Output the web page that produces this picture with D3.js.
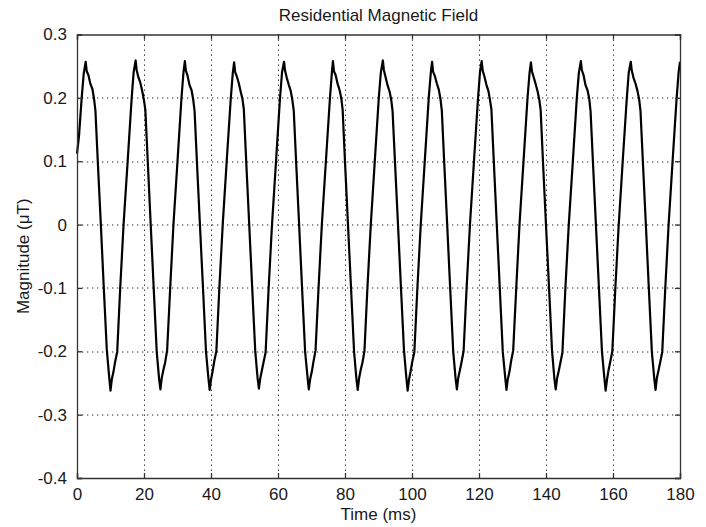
<!DOCTYPE html>
<html>
<head>
<meta charset="utf-8">
<script src="https://cdn.jsdelivr.net/npm/d3@7"></script>
<style>
  html, body { margin: 0; padding: 0; background: #fff; }
  svg { display: block; }
  text { font-family: "Liberation Sans", Arial, sans-serif; fill: #1a1a1a; }
</style>
</head>
<body>
<svg id="chart" width="706" height="527"></svg>
<script>
// ---------- data ----------
const title = "Residential Magnetic Field";
const xLabel = "Time (ms)";
const yLabel = "Magnitude (\u03bcT)";
const xTicks = [0, 20, 40, 60, 80, 100, 120, 140, 160, 180];
const yTicks = [-0.4, -0.3, -0.2, -0.1, 0, 0.1, 0.2, 0.3];
const yTickLabels = ["-0.4", "-0.3", "-0.2", "-0.1", "0", "0.1", "0.2", "0.3"];

const times = [
  0.0, 0.6, 1.4, 2.0,
  2.6, 2.9, 3.4, 4.0, 4.6, 5.1, 5.5, 6.2, 7.1, 8.0, 8.9, 9.6, 10.0, 10.4, 10.9, 11.4, 12.0, 12.9, 13.9, 15.1, 16.3, 16.9,
  17.5, 17.8, 18.3, 18.9, 19.5, 20.0, 20.4, 21.1, 22.0, 22.9, 23.8, 24.5, 24.9, 25.3, 25.8, 26.3, 26.9, 27.8, 28.8, 30.0, 31.2, 31.8,
  32.2, 32.5, 33.0, 33.6, 34.2, 34.7, 35.1, 35.8, 36.7, 37.6, 38.5, 39.2, 39.6, 40.0, 40.5, 41.0, 41.6, 42.5, 43.5, 44.7, 45.9, 46.5,
  46.9, 47.2, 47.7, 48.3, 48.9, 49.4, 49.8, 50.5, 51.4, 52.3, 53.2, 53.9, 54.3, 54.7, 55.2, 55.7, 56.3, 57.2, 58.2, 59.4, 60.6, 61.2,
  61.8, 62.1, 62.6, 63.2, 63.8, 64.3, 64.7, 65.4, 66.3, 67.2, 68.1, 68.8, 69.2, 69.6, 70.1, 70.6, 71.2, 72.1, 73.1, 74.3, 75.5, 76.1,
  76.4, 76.7, 77.2, 77.8, 78.4, 78.9, 79.3, 80.0, 80.9, 81.8, 82.7, 83.4, 83.8, 84.2, 84.7, 85.2, 85.8, 86.7, 87.7, 88.9, 90.1, 90.7,
  91.3, 91.6, 92.1, 92.7, 93.3, 93.8, 94.2, 94.9, 95.8, 96.7, 97.6, 98.3, 98.7, 99.1, 99.6, 100.1, 100.7, 101.6, 102.6, 103.8, 105.0, 105.6,
  106.0, 106.3, 106.8, 107.4, 108.0, 108.5, 108.9, 109.6, 110.5, 111.4, 112.3, 113.0, 113.4, 113.8, 114.3, 114.8, 115.4, 116.3, 117.3, 118.5, 119.7, 120.3,
  120.8, 121.1, 121.6, 122.2, 122.8, 123.3, 123.7, 124.4, 125.3, 126.2, 127.1, 127.8, 128.2, 128.6, 129.1, 129.6, 130.2, 131.1, 132.1, 133.3, 134.5, 135.1,
  135.5, 135.8, 136.3, 136.9, 137.5, 138.0, 138.4, 139.1, 140.0, 140.9, 141.8, 142.5, 142.9, 143.3, 143.8, 144.3, 144.9, 145.8, 146.8, 148.0, 149.2, 149.8,
  150.4, 150.7, 151.2, 151.8, 152.4, 152.9, 153.3, 154.0, 154.9, 155.8, 156.7, 157.4, 157.8, 158.2, 158.7, 159.2, 159.8, 160.7, 161.7, 162.9, 164.1, 164.7,
  165.3, 165.6, 166.1, 166.7, 167.3, 167.8, 168.2, 168.9, 169.8, 170.7, 171.6, 172.3, 172.7, 173.1, 173.6, 174.1, 174.7, 175.6, 176.6, 177.8, 179.0, 179.6,
  180.0
];

const values = [
  0.112, 0.140, 0.200, 0.238,
  0.257, 0.242, 0.236, 0.222, 0.214, 0.198, 0.180, 0.100, 0.002, -0.100, -0.198, -0.240, -0.262, -0.244, -0.232, -0.216, -0.201, -0.100, 0.000, 0.098, 0.198, 0.240,
  0.259, 0.244, 0.233, 0.224, 0.210, 0.196, 0.181, 0.102, 0.000, -0.101, -0.201, -0.243, -0.260, -0.242, -0.229, -0.218, -0.199, -0.102, 0.001, 0.100, 0.201, 0.241,
  0.258, 0.243, 0.235, 0.220, 0.212, 0.197, 0.179, 0.099, -0.001, -0.099, -0.200, -0.241, -0.261, -0.245, -0.231, -0.215, -0.200, -0.099, 0.000, 0.101, 0.199, 0.239,
  0.256, 0.241, 0.234, 0.223, 0.209, 0.198, 0.182, 0.101, 0.001, -0.100, -0.199, -0.242, -0.259, -0.243, -0.230, -0.217, -0.202, -0.101, -0.001, 0.099, 0.200, 0.240,
  0.257, 0.243, 0.232, 0.221, 0.211, 0.196, 0.180, 0.100, 0.000, -0.102, -0.201, -0.240, -0.260, -0.244, -0.232, -0.216, -0.199, -0.100, 0.001, 0.100, 0.199, 0.241,
  0.258, 0.242, 0.236, 0.222, 0.212, 0.199, 0.181, 0.099, -0.001, -0.100, -0.200, -0.243, -0.261, -0.243, -0.229, -0.218, -0.200, -0.099, 0.000, 0.101, 0.201, 0.240,
  0.259, 0.244, 0.233, 0.220, 0.210, 0.197, 0.179, 0.101, 0.002, -0.099, -0.198, -0.241, -0.262, -0.245, -0.231, -0.216, -0.201, -0.101, -0.001, 0.099, 0.200, 0.239,
  0.257, 0.241, 0.235, 0.223, 0.213, 0.198, 0.180, 0.100, 0.000, -0.101, -0.200, -0.242, -0.260, -0.242, -0.230, -0.217, -0.200, -0.100, 0.000, 0.100, 0.199, 0.241,
  0.258, 0.243, 0.234, 0.221, 0.211, 0.196, 0.182, 0.102, 0.001, -0.100, -0.201, -0.240, -0.261, -0.244, -0.232, -0.215, -0.199, -0.102, 0.001, 0.101, 0.201, 0.240,
  0.256, 0.242, 0.233, 0.222, 0.210, 0.197, 0.181, 0.099, -0.001, -0.099, -0.199, -0.243, -0.260, -0.243, -0.231, -0.218, -0.202, -0.099, 0.000, 0.099, 0.200, 0.239,
  0.258, 0.244, 0.236, 0.220, 0.212, 0.199, 0.179, 0.100, 0.000, -0.100, -0.200, -0.241, -0.262, -0.245, -0.229, -0.216, -0.200, -0.100, -0.001, 0.100, 0.198, 0.240,
  0.257, 0.243, 0.232, 0.223, 0.211, 0.198, 0.180, 0.101, 0.001, -0.101, -0.201, -0.242, -0.261, -0.242, -0.230, -0.217, -0.201, -0.101, 0.000, 0.101, 0.200, 0.241,
  0.257
];

// ---------- layout ----------
const W = 706, H = 527;
const margin = { left: 77, right: 26, top: 34.5, bottom: 49 };
const pw = W - margin.left - margin.right;
const ph = H - margin.top - margin.bottom;

const svg = d3.select("#chart");
const g = svg.append("g").attr("transform", `translate(${margin.left},${margin.top})`);

const x = d3.scaleLinear().domain([0, 180]).range([0, pw]);
const y = d3.scaleLinear().domain([-0.4, 0.3]).range([ph, 0]);

// grid (dotted)
const gridX = xTicks.filter(t => t > 0 && t < 180);
const gridY = yTicks.filter(t => t > -0.4 + 1e-9 && t < 0.3 - 1e-9);
g.append("g").selectAll("line").data(gridX).join("line")
  .attr("x1", d => Math.round(x(d)) + 0.5).attr("x2", d => Math.round(x(d)) + 0.5)
  .attr("y1", 0).attr("y2", ph)
  .attr("stroke", "#222").attr("stroke-width", 1).attr("stroke-dasharray", "1.3,3.7");
g.append("g").selectAll("line").data(gridY).join("line")
  .attr("y1", d => Math.round(y(d)) + 0.5).attr("y2", d => Math.round(y(d)) + 0.5)
  .attr("x1", 0).attr("x2", pw)
  .attr("stroke", "#222").attr("stroke-width", 1).attr("stroke-dasharray", "1.3,3.7");

// data line
const pts = times.map((t, i) => [t, values[i]]);
g.append("path")
  .datum(pts)
  .attr("fill", "none")
  .attr("stroke", "#000")
  .attr("stroke-width", 2.2)
  .attr("stroke-linejoin", "round")
  .attr("d", d3.line().x(d => x(d[0])).y(d => y(d[1])));

// axes (MATLAB style box with inward ticks)
const tickLen = 5;
const axisColor = "#333";
const bottomAxis = d3.axisBottom(x).tickValues(xTicks).tickSize(-tickLen).tickPadding(10).tickFormat(d3.format("d"));
const topAxis = d3.axisTop(x).tickValues(xTicks).tickSize(-tickLen).tickFormat("");
const leftAxis = d3.axisLeft(y).tickValues(yTicks).tickSize(-tickLen).tickPadding(10)
  .tickFormat((d, i) => yTickLabels[i]);
const rightAxis = d3.axisRight(y).tickValues(yTicks).tickSize(-tickLen).tickFormat("");

function style(sel) {
  sel.select(".domain").attr("stroke", axisColor).attr("stroke-width", 1.3);
  sel.selectAll(".tick line").attr("stroke", axisColor).attr("stroke-width", 1.3);
  sel.selectAll(".tick text").attr("font-size", 17).attr("fill", "#1a1a1a")
    .attr("font-family", "'Liberation Sans', Arial, sans-serif");
}
g.append("g").attr("transform", `translate(0,${ph})`).call(bottomAxis).call(style);
g.append("g").call(topAxis).call(style);
g.append("g").call(leftAxis).call(style);
g.append("g").attr("transform", `translate(${pw},0)`).call(rightAxis).call(style);

// title and axis labels
svg.append("text").attr("x", margin.left + pw / 2).attr("y", 21)
  .attr("text-anchor", "middle").attr("font-size", 17).text(title);
svg.append("text").attr("x", margin.left + pw / 2).attr("y", 520)
  .attr("text-anchor", "middle").attr("font-size", 17).text(xLabel);
svg.append("text")
  .attr("transform", `translate(29,${margin.top + ph / 2}) rotate(-90)`)
  .attr("text-anchor", "middle").attr("font-size", 17).text(yLabel);
</script>
</body>
</html>
